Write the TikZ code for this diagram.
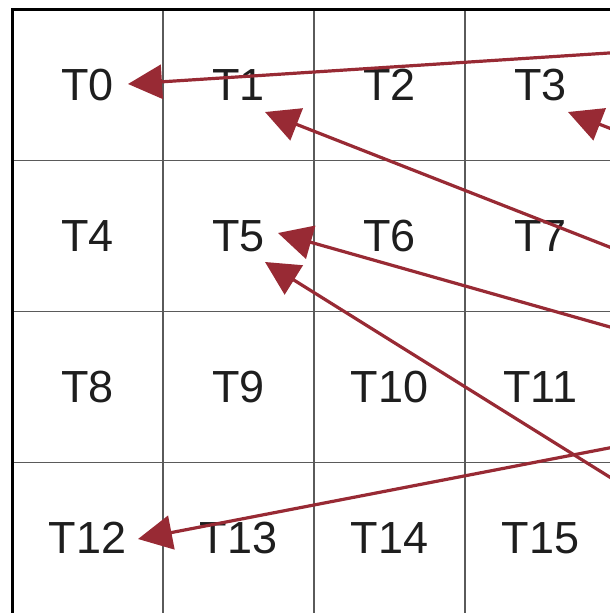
\documentclass[tikz,border=0pt]{standalone}
\usepackage{fontspec}
\setmainfont{Liberation Sans}
\usetikzlibrary{arrows.meta}
\definecolor{arrowred}{RGB}{152,42,52}
\definecolor{gridgray}{RGB}{90,90,90}
\definecolor{textdark}{RGB}{30,30,30}
\tikzset{
  cell/.style={draw=gridgray, line width=1.2pt, minimum width=151pt, minimum height=151pt,
    inner sep=0pt, outer sep=0pt, anchor=center, text=textdark,
    font=\fontsize{45}{45}\selectfont},
  mapping/.style={draw=arrowred, line width=3.2pt,
    -{Triangle[length=34pt,width=34pt,fill=arrowred]}, shorten >=0pt}
}
\begin{document}
\begin{tikzpicture}[x=1pt,y=-1pt]
\useasboundingbox (0,0) rectangle (610,613);
\clip (0,0) rectangle (610,613);
\foreach \r in {0,...,3}{
  \foreach \c in {0,...,3}{
    \pgfmathtruncatemacro{\idx}{4*\r+\c}
    \node[cell] (T\idx) at ({12+151*\c+75.5},{9.5+151*\r+75.5}) {T\idx};
  }
}
\draw[black, line width=3pt] (12,625) -- (12,9.5) -- (625,9.5);
% arrow tips and sources
\coordinate (t0) at (128,84);   \coordinate (s0) at (640,51);
\coordinate (t3) at (568,112);  \coordinate (s3) at (640,140);
\coordinate (t1) at (265,112);  \coordinate (s1) at (640,259);
\coordinate (t5a) at (278,233); \coordinate (s5a) at (640,335.5);
\coordinate (t5b) at (265,262); \coordinate (s5b) at (640,496);
\coordinate (t12) at (138,539); \coordinate (s12) at (640,442);
\draw[mapping] (s0) -- (t0);
\draw[mapping] (s3) -- (t3);
\draw[mapping] (s1) -- (t1);
\draw[mapping] (s5a) -- (t5a);
\draw[mapping] (s5b) -- (t5b);
\draw[mapping] (s12) -- (t12);
\end{tikzpicture}
\end{document}
